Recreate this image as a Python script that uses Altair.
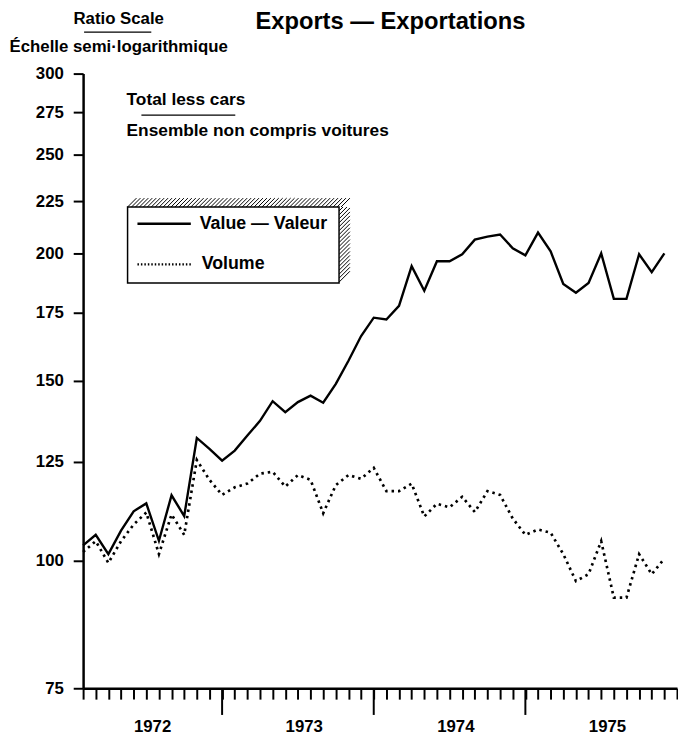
import math
import altair as alt
import pandas as pd

# ---------------- data ----------------
month_index = list(range(47))  # Jan 1972 = 0 ... Nov 1975 = 46
value = [103.5, 106.0, 101.5, 107.0, 111.8, 113.8, 104.6, 115.9, 110.6, 131.9, 128.7, 125.3,
         128.2, 132.6, 137.1, 143.3, 139.8, 143.0, 145.1, 142.8, 149.0, 157.0, 166.0, 173.0,
         172.3, 177.7, 194.3, 183.8, 196.5, 196.5, 199.6, 206.3, 207.7, 208.7, 202.3, 199.1,
         209.6, 200.9, 186.7, 183.0, 187.1, 200.0, 180.5, 180.5, 199.6, 191.7, 200.0]
volume = [102.0, 104.5, 99.5, 104.5, 108.5, 111.5, 101.5, 111.0, 106.0, 125.5, 120.0, 116.0,
          118.0, 119.0, 121.7, 122.2, 118.2, 121.3, 120.0, 111.3, 118.6, 121.3, 120.3, 123.3,
          117.0, 117.0, 119.0, 110.5, 113.7, 112.8, 115.5, 111.6, 117.0, 116.0, 110.0, 106.0,
          107.3, 106.5, 101.5, 95.5, 97.0, 104.5, 92.0, 92.0, 101.5, 97.0, 100.5]
y_ticks = [75, 100, 125, 150, 175, 200, 225, 250, 275, 300]
month_ticks = list(range(48))
year_labels = ["1972", "1973", "1974", "1975"]
year_centers = [5.5, 17.5, 29.5, 41.5]
year_breaks = [11, 23, 35]

# ---------------- layout ----------------
W, H = 601, 622
X_MAX = 47
Y_MIN, Y_MAX = 75, 300
FONT = "Liberation Sans"


def px_to_m(px):
    return px / W * X_MAX


def py_to_v(py):
    return Y_MAX * (Y_MIN / Y_MAX) ** (py / H)


x_enc = alt.X("m:Q",
              scale=alt.Scale(domain=[0, X_MAX], nice=False, zero=False),
              axis=alt.Axis(values=month_ticks, labels=False, title=None, grid=False,
                            tickSize=11, tickWidth=2, tickColor="black",
                            domainWidth=2.5, domainColor="black"))
y_enc = alt.Y("v:Q",
              scale=alt.Scale(type="log", domain=[Y_MIN, Y_MAX], nice=False),
              axis=alt.Axis(values=y_ticks, title=None, grid=False,
                            tickSize=10, tickWidth=2, tickColor="black",
                            domainWidth=2.5, domainColor="black",
                            labelFont=FONT, labelFontSize=17, labelFontWeight="bold",
                            labelColor="black", labelPadding=10))

df_value = pd.DataFrame({"m": month_index, "v": value})
df_volume = pd.DataFrame({"m": month_index, "v": volume})

value_line = alt.Chart(df_value).mark_line(color="black", strokeWidth=2.4).encode(x=x_enc, y=y_enc)
volume_line = alt.Chart(df_volume).mark_line(
    color="black", strokeWidth=2.7, strokeDash=[2.5, 4]).encode(x=x_enc, y=y_enc)

long_ticks = alt.Chart(pd.DataFrame({"m": year_breaks})).mark_rule(
    color="black", strokeWidth=2).encode(x=x_enc, y=alt.value(H), y2=alt.value(H + 27))

years = alt.Chart(pd.DataFrame({"m": year_centers, "label": year_labels})).mark_text(
    font=FONT, fontSize=17, fontWeight="bold", color="black", baseline="middle").encode(
    x=x_enc, y=alt.value(H + 39), text="label:N")


def label(txt, x, y, size=17, align="left", weight="bold"):
    return alt.Chart(pd.DataFrame({"t": [txt]})).mark_text(
        font=FONT, fontSize=size, fontWeight=weight, color="black",
        align=align, baseline="middle").encode(
        x=alt.value(x), y=alt.value(y), text="t:N")


def hline(x1, x2, y, width=1.5, dash=None):
    kw = dict(color="black", strokeWidth=width)
    if dash:
        kw["strokeDash"] = dash
    return alt.Chart(pd.DataFrame({"a": [0]})).mark_rule(**kw).encode(
        x=alt.value(x1), x2=alt.value(x2), y=alt.value(y))


# legend box with hatched 3-D shadow (pixel geometry relative to plot)
BX0, BX1, BY0, BY1 = 45, 259, 135, 212
DX, DY = 11, 9
segs = []
c = BX0 + BY0
while c <= BX1 + DX + BY0 - DY + 0.1:
    xa, ya = c - BY0, BY0
    xb, yb = c - (BY0 - DY), BY0 - DY
    if xb > BX1 + DX:
        xb, yb = BX1 + DX, c - (BX1 + DX)
    segs.append((xa, ya, xb, yb))
    c += 4
c = BX1 + BY0
while c <= BX1 + BY1 + 0.1:
    xa = max(BX1, c - BY1)
    xb = min(BX1 + DX, c - BY0)
    if xb > xa:
        segs.append((xa, c - xa, xb, c - xb))
    c += 4
hatch_df = pd.DataFrame({
    "m": [px_to_m(s[0]) for s in segs],
    "v": [py_to_v(s[1]) for s in segs],
    "m2": [px_to_m(s[2]) for s in segs],
    "v2": [py_to_v(s[3]) for s in segs],
})
hatch = alt.Chart(hatch_df).mark_rule(color="black", strokeWidth=1).encode(
    x=x_enc, y=y_enc, x2="m2:Q", y2="v2:Q")

box = alt.Chart(pd.DataFrame({"a": [0]})).mark_rect(
    fill="white", stroke="black", strokeWidth=1.5).encode(
    x=alt.value(BX0), x2=alt.value(BX1), y=alt.value(BY0), y2=alt.value(BY1))

layers = [
    value_line, volume_line, long_ticks, years,
    hatch, box,
    hline(55, 109, 152, width=2.4),
    hline(55, 109, 193, width=2.4, dash=[1.5, 2]),
    label("Value \u2014 Valeur", 118, 152, size=18),
    label("Volume", 120, 193, size=18),
    label("Ratio Scale", 36, -55, size=17, align="center"),
    hline(1, 69, -42, width=1.3),
    label("\u00c9chelle semi\u00b7logarithmique", 36, -27, size=17, align="center"),
    label("Exports \u2014 Exportations", 311, -52, size=24, align="center"),
    label("Total less cars", 44, 27, size=17.5),
    hline(59, 154, 42, width=1.3),
    label("Ensemble non compris voitures", 44, 58, size=17.5),
]

chart = alt.layer(*layers).properties(
    width=W, height=H,
    autosize=alt.AutoSizeParams(type="none"),
    padding={"left": 76, "top": 62, "right": 1, "bottom": 50},
    background="white",
).configure_view(stroke=None)

chart.save("out.html", embed_options={"renderer": "svg", "actions": False})
